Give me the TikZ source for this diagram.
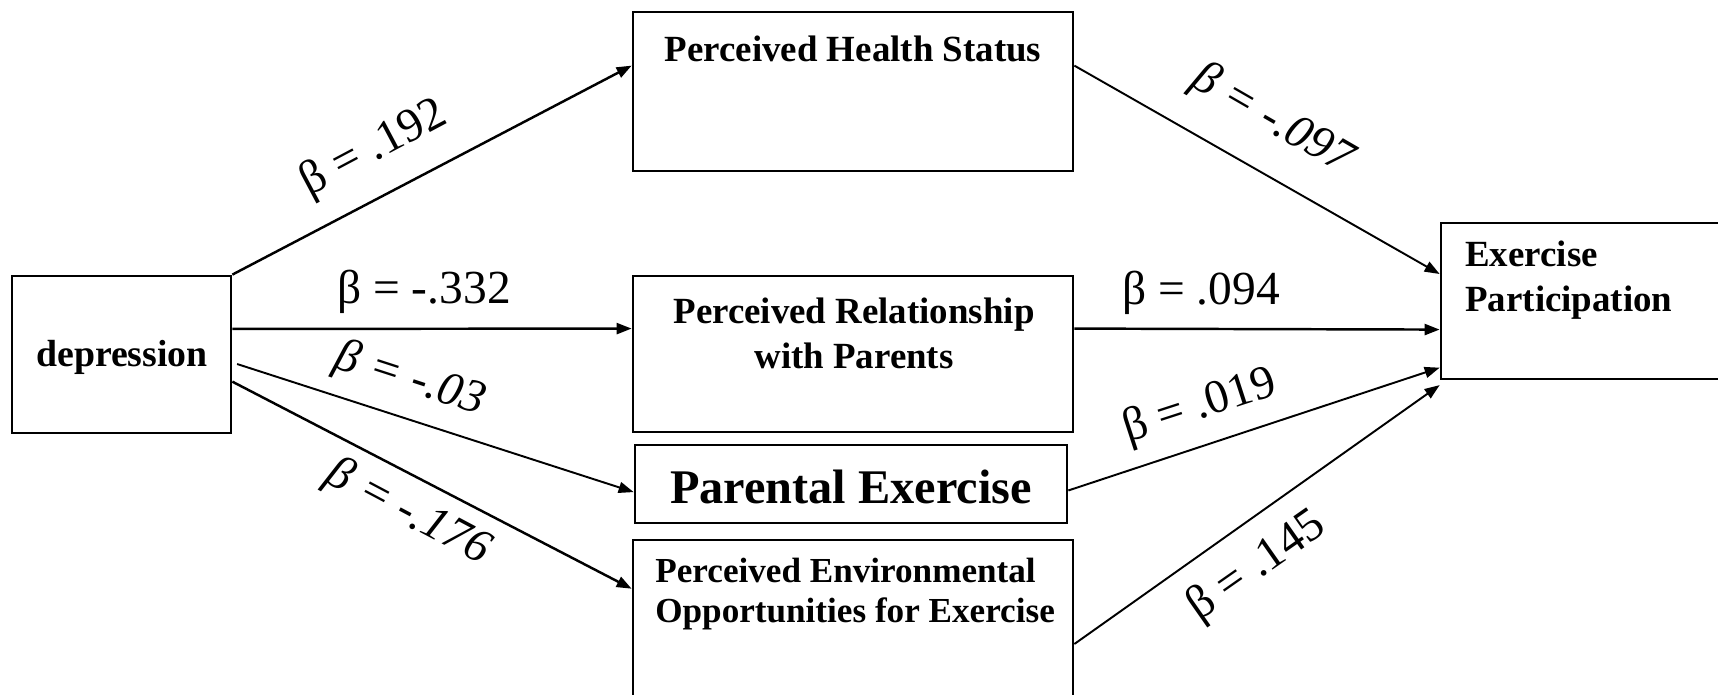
\documentclass[tikz,border=0pt]{standalone}
\usepackage{fontspec}
\setmainfont{Liberation Serif}
\usetikzlibrary{arrows.meta,calc}
\tikzset{
  box/.style={draw, line width=1.6pt, rectangle, inner sep=0pt},
  boxtext/.style={font=\bfseries\fontsize{21}{25.6}\selectfont, align=center, inner sep=0pt},
  coef/.style={font=\fontsize{27}{30}\selectfont, inner sep=0pt},
  coefit/.style={font=\itshape\fontsize{27}{30}\selectfont, inner sep=0pt},
  link/.style={line width=1.4pt, -{Triangle[length=0.3cm,width=0.22cm]}},
  thinlink/.style={link, line width=1.1pt},
}
\begin{document}
\begin{tikzpicture}[x=0.02cm,y=-0.02cm]
            \clip (0,0) rectangle (1718,695);
            \node[box, minimum width=4.38cm, minimum height=3.14cm] (dep) at (121.5,354.5) {};
            \node[box, minimum width=8.8cm, minimum height=3.18cm] (hs) at (853,91.5) {};
            \node[box, minimum width=8.8cm, minimum height=3.12cm] (rp) at (853,354) {};
            \node[box, minimum width=8.64cm, minimum height=1.56cm] (pe) at (851,484) {};
            \node[box, minimum width=8.8cm, minimum height=3.4cm] (env) at (853,625) {};
            \node[box, minimum width=6cm, minimum height=3.12cm] (ep) at (1591,301) {};
            \node[boxtext, font=\bfseries\fontsize{21.5}{25.6}\selectfont] (deptxt) at (122,357) {depression};
            \node[boxtext] (hstxt) at (853,49) {Perceived Health Status};
            \node[boxtext] (rptxt) at (854,333) {Perceived Relationship\\with Parents};
            \node[boxtext, font=\bfseries\fontsize{27.5}{30}\selectfont] (petxt) at (851,487) {Parental Exercise};
            \node[boxtext, font=\bfseries\fontsize{20}{22.7}\selectfont, align=left, anchor=west] (envtxt) at (655,594) {Perceived Environmental\\Opportunities for Exercise};
            \node[boxtext, align=left, anchor=west] (eptxt) at (1465,280) {Exercise\\Participation};
            \draw[link] (dep.north east) -- ($(hs.north west)!0.34!(hs.south west)$);
            \draw[link] ($(dep.north east)!0.34!(dep.south east)$) -- ($(rp.north west)!0.34!(rp.south west)$);
            \draw[thinlink, shorten <=0.1cm] ($(dep.north east)!0.55!(dep.south east)$) -- ($(pe.north west)!0.6!(pe.south west)$);
            \draw[link] ($(dep.north east)!0.67!(dep.south east)$) -- ($(env.north west)!0.29!(env.south west)$);
            \draw[thinlink] ($(hs.north east)!0.34!(hs.south east)$) -- ($(ep.north west)!0.33!(ep.south west)$);
            \draw[link] ($(rp.north east)!0.34!(rp.south east)$) -- ($(ep.north west)!0.68!(ep.south west)$);
            \draw[thinlink] ($(pe.north east)!0.58!(pe.south east)$) -- ($(ep.north west)!0.92!(ep.south west)$);
            \draw[thinlink] ($(env.north east)!0.61!(env.south east)$) -- ($(ep.north west)!1.03!(ep.south west)$);
            \node[coef, rotate=28] (b1) at (374,149) {β = .192};
            \node[coef] (b2) at (424,292) {β = -.332};
            \node[coefit, rotate=-18] (b3) at (410,380) {β = -.03};
            \node[coefit, rotate=-28] (b4) at (408,513) {β = -.176};
            \node[coefit, rotate=-30] (b5) at (1272,120) {β = -.097};
            \node[coef] (b6) at (1201,293) {β = .094};
            \node[coef, rotate=18] (b7) at (1200,407) {β = .019};
            \node[coef, rotate=35] (b8) at (1257,567) {β = .145};
\end{tikzpicture}
\end{document}
